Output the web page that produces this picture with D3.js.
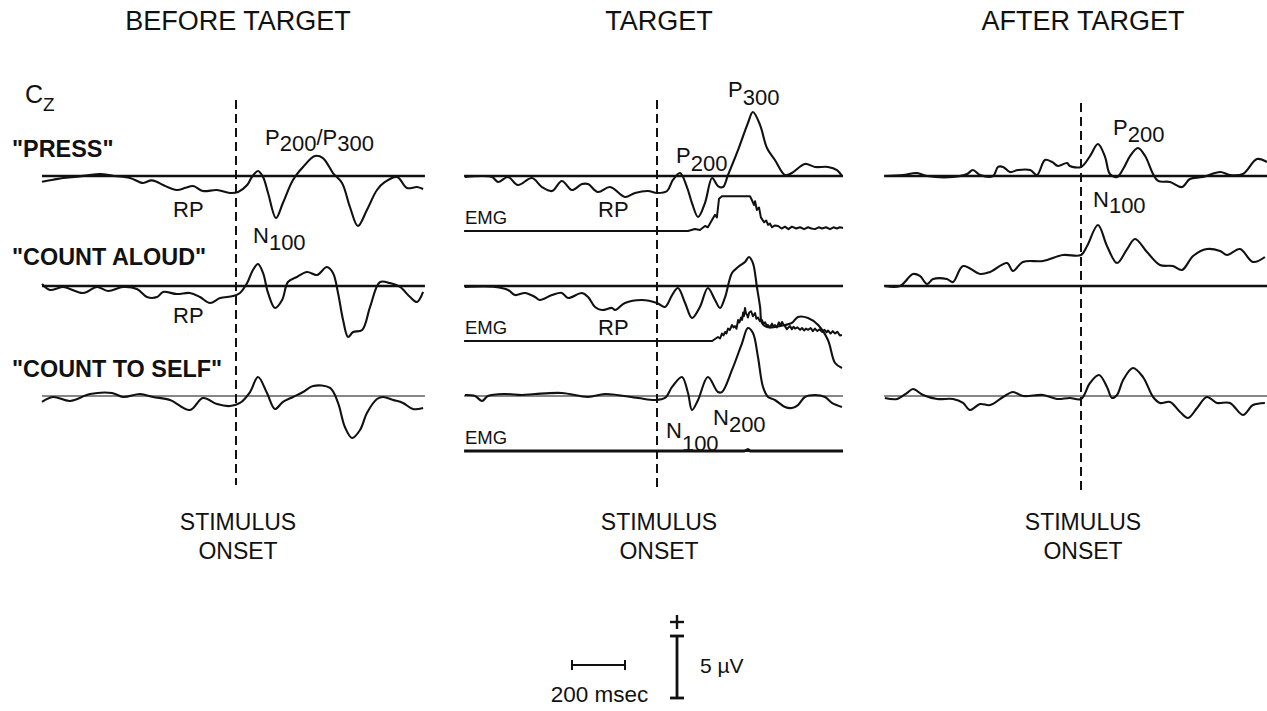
<!DOCTYPE html>
<html><head><meta charset="utf-8">
<script src="https://cdn.jsdelivr.net/npm/d3@7"></script>
<style>
body{margin:0;background:#fff;}
text{font-family:"Liberation Sans",Arial,Helvetica,sans-serif;fill:#111;}
</style>
</head><body>
<svg id="chart" width="1267" height="711"></svg>
<script>
// ---------------- DATA ----------------
const panelTitles = ["BEFORE TARGET", "TARGET", "AFTER TARGET"];
const conditionLabels = ['"PRESS"', '"COUNT ALOUD"', '"COUNT TO SELF"'];
const panelSpanMs = [[-732, 713], [-728, 702], [-743, 702]];

// ERP traces at Cz: [time ms re stimulus onset, amplitude µV] (+ up)
const beforePress = [[-732,-0.46],[-690,-0.3],[-653,-0.16],[-600,-0.05],[-560,0.05],[-513,0.16],[-460,0.0],[-400,-0.16],[-351,-0.56],[-320,-0.35],[-298,-0.48],[-275,-0.73],[-223,-1.13],[-190,-0.95],[-162,-0.81],[-125,-1.21],[-72,-1.13],[-23,-1.37],[8,-1.29],[42,-0.73],[60,-0.08],[83,0.4],[102,-0.08],[121,-1.37],[151,-3.39],[177,-2.18],[215,-0.32],[253,0.73],[298,1.61],[328,1.45],[366,0.24],[400,-0.56],[430,-2.5],[460,-4.03],[494,-2.74],[532,-1.13],[562,-0.48],[608,-0.08],[645,-0.97],[683,-0.89],[706,-1.05]];
const beforeAloud = [[-732,0.16],[-702,-0.32],[-653,-0.08],[-577,-0.56],[-525,-0.08],[-483,-0.4],[-426,-0.08],[-374,-0.24],[-336,-0.89],[-298,-0.89],[-275,-0.48],[-223,-0.65],[-174,-0.56],[-136,-0.89],[-98,-1.37],[-60,-0.97],[-11,-0.81],[15,-0.56],[42,0.24],[64,1.29],[83,1.77],[102,1.05],[121,-0.56],[147,-1.77],[174,-1.13],[196,0.32],[230,0.73],[268,1.13],[306,0.89],[343,1.53],[366,1.05],[385,-0.56],[404,-2.74],[423,-4.11],[442,-3.71],[476,-3.55],[506,-1.69],[543,0.32],[581,0.24],[619,-0.08],[657,-0.89],[683,-1.29],[706,-0.48]];
const beforeSelf = [[-732,-0.48],[-691,-0.08],[-626,-0.4],[-551,0.16],[-468,0.24],[-426,-0.08],[-362,0.16],[-313,-0.08],[-249,-0.32],[-174,-1.13],[-125,-0.16],[-72,-0.65],[-23,-0.81],[15,-0.56],[53,0.32],[83,1.53],[117,0.24],[147,-1.05],[177,-0.48],[215,-0.08],[253,0.32],[291,0.81],[355,0.65],[385,-0.56],[411,-2.5],[438,-3.39],[468,-2.74],[494,-1.37],[532,-0.24],[555,-0.08],[593,-0.32],[630,-0.56],[668,-1.05],[706,-0.97]];

const targetPress = [[-725,-0.08],[-623,-0.08],[-600,-0.48],[-562,-0.08],[-525,-0.73],[-472,-0.16],[-434,-0.89],[-396,-1.21],[-359,-0.4],[-321,-1.13],[-283,-0.65],[-260,-0.65],[-223,-1.29],[-177,-0.89],[-121,-1.69],[-83,-1.37],[-34,-1.21],[0,-1.37],[38,-1.21],[60,-0.32],[87,0.24],[113,-0.89],[132,-2.18],[155,-3.31],[181,-2.18],[208,-0.16],[230,-0.81],[249,-0.89],[268,0.08],[306,2.1],[343,4.27],[362,5.16],[389,4.11],[415,2.26],[445,1.29],[483,0.08],[509,0.24],[558,0.97],[596,0.73],[645,0.73],[679,0.48],[698,0.0]];
const targetAloud = [[-725,-0.08],[-611,-0.08],[-562,-0.32],[-536,-0.73],[-498,-0.56],[-460,-0.89],[-442,-1.13],[-396,-0.73],[-359,-0.56],[-336,-0.97],[-283,-0.56],[-260,-0.89],[-234,-1.69],[-208,-1.94],[-170,-1.77],[-158,-1.94],[-121,-1.37],[-57,-1.13],[0,-1.37],[30,-1.69],[57,-0.73],[79,-0.16],[106,-1.37],[132,-2.58],[162,-1.69],[192,-0.16],[219,-1.13],[238,-1.77],[257,-0.89],[283,1.05],[306,1.53],[332,1.94],[347,2.34],[362,1.85],[377,-0.08],[389,-1.69],[396,-2.98],[415,-3.31],[445,-3.31],[483,-3.15],[509,-2.98],[532,-2.5],[570,-2.58],[608,-3.15],[645,-4.35],[672,-6.21],[698,-6.61]];
const targetSelf = [[-725,0.08],[-687,0.0],[-660,-0.4],[-638,0.0],[-574,0.16],[-510,0.08],[-460,0.16],[-359,0.24],[-260,-0.08],[-196,0.16],[-72,-0.16],[-8,-0.32],[30,-0.16],[57,0.73],[94,1.53],[117,0.24],[132,-1.13],[155,-0.32],[192,1.53],[230,0.32],[245,0.32],[283,2.1],[321,4.27],[343,5.48],[362,5.08],[381,3.15],[400,0.73],[419,-0.08],[445,-0.32],[483,-0.89],[509,-0.97],[532,-0.73],[558,-0.08],[596,0.08],[634,-0.08],[660,-0.56],[698,-0.89]];

const afterPress = [[-740,0.0],[-672,0.08],[-619,0.24],[-581,0.0],[-483,-0.08],[-430,0.16],[-408,0.48],[-381,0.08],[-332,0.0],[-313,0.73],[-294,0.73],[-268,0.32],[-238,0.48],[-192,0.48],[-166,0.08],[-136,1.29],[-109,1.13],[-87,0.81],[-53,1.05],[-42,0.81],[0,0.73],[34,1.61],[64,2.58],[91,1.53],[109,0.16],[136,-0.08],[159,0.56],[185,1.61],[215,2.26],[242,1.61],[272,0.16],[291,-0.4],[336,-0.48],[381,-0.89],[411,-0.24],[460,-0.08],[525,0.32],[562,0.08],[611,0.16],[664,1.37],[702,1.13]];
const afterAloud = [[-740,0.0],[-683,0.0],[-634,0.97],[-608,0.81],[-581,0.16],[-558,0.56],[-506,0.56],[-483,0.32],[-445,1.61],[-381,0.97],[-343,1.13],[-279,1.85],[-257,1.21],[-219,1.94],[-143,2.02],[-68,2.5],[0,2.5],[23,3.23],[64,4.92],[98,3.23],[136,1.85],[174,2.98],[204,3.79],[249,2.74],[298,1.69],[347,1.61],[381,1.29],[423,2.42],[475,2.98],[525,2.82],[551,2.5],[600,2.98],[649,1.94],[694,2.34]];
const afterSelf = [[-740,-0.16],[-694,-0.24],[-657,0.24],[-634,0.56],[-596,0.08],[-543,-0.24],[-483,-0.24],[-445,-0.56],[-419,-1.13],[-381,-0.65],[-343,-0.73],[-294,-0.08],[-257,0.32],[-219,0.0],[-143,0.08],[-91,-0.24],[-42,-0.16],[0,-0.24],[34,1.05],[68,1.69],[98,0.73],[117,-0.16],[136,0.08],[159,1.29],[196,2.26],[234,1.53],[272,-0.08],[298,-0.56],[336,-0.48],[374,-1.29],[404,-1.77],[438,-0.97],[475,-0.08],[513,-0.56],[562,-0.56],[611,-1.53],[649,-0.73],[694,-0.56]];

// EMG traces (target column), same units
const emgPress = [[-728,0],[117,0],[143,0.16],[162,0.08],[181,0.4],[192,0.3],[208,0.9],[219,1.3],[226,1.1],[234,2.6],[245,2.8],[300,2.8],[351,2.8],[358,2.5],[366,2.1],[370,2.4],[377,1.7],[385,1.9],[392,1.1],[404,0.7],[412,0.85],[419,0.5],[426,0.6],[434,0.3],[445,0.45],[457,0.4],[470,0.2],[483,0.35],[496,0.15],[509,0.35],[525,0.2],[540,0.3],[555,0.15],[570,0.3],[583,0.2],[596,0.15],[610,0.3],[623,0.2],[638,0.3],[653,0.15],[666,0.3],[679,0.2],[690,0.3],[702,0.25]];
const emgAloud = [[-728,0],[208,0],[230,0.32],[238,0.2],[245,0.6],[251,0.45],[257,0.73],[262,0.6],[268,1.0],[275,0.9],[283,1.29],[289,1.1],[294,1.2],[300,1.0],[306,1.69],[311,1.5],[317,1.9],[321,1.7],[325,2.3],[328,2.0],[332,2.66],[336,2.2],[340,2.1],[343,1.9],[348,2.3],[355,2.4],[362,2.0],[370,2.26],[375,1.8],[381,1.9],[388,1.6],[396,1.69],[402,1.4],[408,1.5],[414,1.25],[419,1.29],[426,1.1],[434,1.4],[440,1.15],[445,1.29],[452,1.1],[460,1.5],[466,1.25],[472,1.53],[478,1.3],[483,1.2],[490,0.95],[494,1.05],[502,1.2],[509,0.95],[515,1.15],[521,1.0],[530,1.1],[540,0.9],[547,1.05],[555,0.85],[562,1.0],[570,0.9],[580,1.05],[588,0.8],[596,1.0],[605,0.8],[614,0.95],[623,0.73],[632,0.9],[640,0.7],[645,0.85],[655,0.6],[663,0.8],[672,0.6],[680,0.75],[690,0.45],[698,0.48]];
const emgSelf = [[-728,0],[330,0],[343,0.12],[352,0],[702,0]];

const scaleBarMs = 200;
const scaleBarUv = 5;

// ---------------- LAYOUT ----------------
const onsetX = [236, 657, 1081];
const rowY = [176, 286, 396];
const emgOffset = 55;
const pxPerMs = 53 / 200;
const pxPerUv = 62 / 5;
const baselineWidth = [2.6, 2.6, 1.2];

const svg = d3.select("#chart");
const xScales = onsetX.map(ox => d3.scaleLinear().domain([0, 1000]).range([ox, ox + 1000 * pxPerMs]));
const yScales = rowY.map(by => d3.scaleLinear().domain([0, 10]).range([by, by - 10 * pxPerUv]));

const erp = [
  [beforePress, beforeAloud, beforeSelf],
  [targetPress, targetAloud, targetSelf],
  [afterPress, afterAloud, afterSelf]
];
const emg = [emgPress, emgAloud, emgSelf];

function lineGen(xs, ys, curve) {
  return d3.line().x(d => xs(d[0])).y(d => ys(d[1])).curve(curve);
}

// titles + stimulus onset labels
panelTitles.forEach((t, i) => {
  svg.append("text").attr("x", onsetX[i] + 2).attr("y", 30)
    .attr("text-anchor", "middle").attr("font-size", 27).text(t);
  svg.append("text").attr("x", onsetX[i] + 2).attr("y", 530)
    .attr("text-anchor", "middle").attr("font-size", 23).text("STIMULUS");
  svg.append("text").attr("x", onsetX[i] + 2).attr("y", 559)
    .attr("text-anchor", "middle").attr("font-size", 23).text("ONSET");
});

// dashed onset lines
const dashY = [[100, 485], [100, 487], [103, 490]];
onsetX.forEach((ox, i) => {
  svg.append("line").attr("x1", ox).attr("x2", ox)
    .attr("y1", dashY[i][0]).attr("y2", dashY[i][1])
    .attr("stroke", "#111").attr("stroke-width", 2).attr("stroke-dasharray", "9,5");
});

// baselines + traces
erp.forEach((col, p) => {
  const xs = xScales[p];
  col.forEach((trace, r) => {
    const ys = yScales[r];
    svg.append("line")
      .attr("x1", xs(panelSpanMs[p][0])).attr("x2", xs(panelSpanMs[p][1]))
      .attr("y1", ys(0)).attr("y2", ys(0))
      .attr("stroke", "#111").attr("stroke-width", baselineWidth[r]);
    svg.append("path").datum(trace)
      .attr("d", lineGen(xs, ys, d3.curveCatmullRom.alpha(0.5)))
      .attr("fill", "none").attr("stroke", "#111").attr("stroke-width", 2.1)
      .attr("stroke-linejoin", "round");
  });
});

// EMG traces in target column
const emgWidth = [2.0, 2.0, 2.8];
emg.forEach((trace, r) => {
  const xs = xScales[1];
  const ys = d3.scaleLinear().domain([0, 10]).range([rowY[r] + emgOffset, rowY[r] + emgOffset - 10 * pxPerUv]);
  svg.append("path").datum(trace)
    .attr("d", lineGen(xs, ys, d3.curveLinear))
    .attr("fill", "none").attr("stroke", "#111").attr("stroke-width", emgWidth[r])
    .attr("stroke-linejoin", "round");
  svg.append("text").attr("x", 465).attr("y", rowY[r] + emgOffset - 7)
    .attr("font-size", 18.5).text("EMG");
});

// condition labels
const labelY = [157, 265, 377];
conditionLabels.forEach((l, i) => {
  svg.append("text").attr("x", 12).attr("y", labelY[i])
    .attr("font-size", 23.4).attr("font-weight", "bold").text(l);
});

// Cz
{
  const t = svg.append("text").attr("x", 25).attr("y", 103).attr("font-size", 25);
  t.append("tspan").text("C");
  t.append("tspan").attr("dy", 8).attr("font-size", 19).text("Z");
}

// annotations with subscripts
function annot(x, y, parts, size) {
  const t = svg.append("text").attr("x", x).attr("y", y).attr("font-size", size || 22);
  let cur = 0;
  parts.forEach(p => {
    const off = p[1] || 0;
    t.append("tspan").attr("dy", off - cur).text(p[0]);
    cur = off;
  });
}
annot(265, 145, [["P"], ["200", 6], ["/P", 0], ["300", 6]]);
annot(173, 217, [["RP"]]);
annot(253, 243, [["N"], ["100", 7]]);
annot(173, 323, [["RP"]]);
annot(728, 97, [["P"], ["300", 8]]);
annot(676, 163, [["P"], ["200", 8]]);
annot(598, 217, [["RP"]]);
annot(598, 335, [["RP"]]);
annot(666, 438, [["N"], ["100", 13]]);
annot(713, 425, [["N"], ["200", 7]]);
annot(1113, 135, [["P"], ["200", 7]]);
annot(1093, 207, [["N"], ["100", 6]]);

// scale bars
{
  const hx0 = 572;
  const hx1 = hx0 + (xScales[1](scaleBarMs) - xScales[1](0));
  const hy = 665;
  const g = svg.append("g").attr("stroke", "#111");
  g.append("line").attr("x1", hx0).attr("x2", hx1).attr("y1", hy).attr("y2", hy).attr("stroke-width", 2);
  g.append("line").attr("x1", hx0).attr("x2", hx0).attr("y1", hy - 5).attr("y2", hy + 5).attr("stroke-width", 2);
  g.append("line").attr("x1", hx1).attr("x2", hx1).attr("y1", hy - 5).attr("y2", hy + 5).attr("stroke-width", 2);
  svg.append("text").attr("x", (hx0 + hx1) / 2 + 1).attr("y", 702).attr("text-anchor", "middle")
    .attr("font-size", 22.5).text(scaleBarMs + " msec");

  const vx = 677, vy0 = 698;
  const vy1 = vy0 - (yScales[0](0) - yScales[0](scaleBarUv));
  g.append("line").attr("x1", vx).attr("x2", vx).attr("y1", vy0).attr("y2", vy1).attr("stroke-width", 2.8);
  g.append("line").attr("x1", vx - 7).attr("x2", vx + 7).attr("y1", vy0).attr("y2", vy0).attr("stroke-width", 2.8);
  g.append("line").attr("x1", vx - 7).attr("x2", vx + 7).attr("y1", vy1).attr("y2", vy1).attr("stroke-width", 2.8);
  g.append("line").attr("x1", vx - 7).attr("x2", vx + 7).attr("y1", 622).attr("y2", 622).attr("stroke-width", 2.4);
  g.append("line").attr("x1", vx).attr("x2", vx).attr("y1", 615).attr("y2", 629).attr("stroke-width", 2.4);
  svg.append("text").attr("x", 700).attr("y", 673).attr("font-size", 21).text(scaleBarUv + " µV");
}
</script>
</body></html>
